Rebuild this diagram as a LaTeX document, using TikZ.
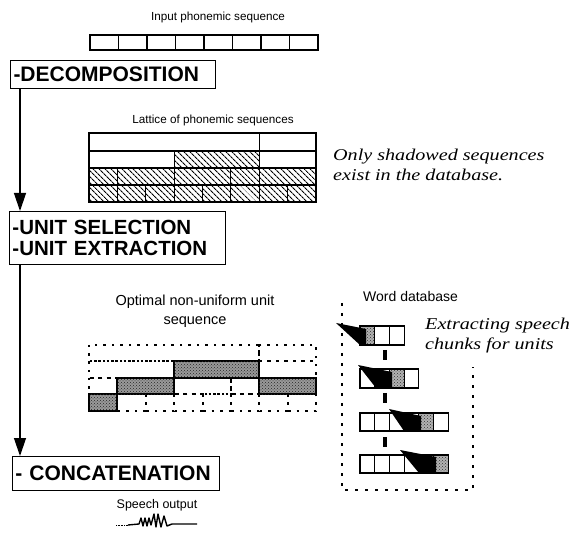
\documentclass[tikz,border=0pt]{standalone}
\usepackage{fontspec}
\setmainfont{Liberation Serif}
\newfontfamily\hv{Liberation Sans}
\newfontfamily\itf[FakeStretch=1.22]{Liberation Serif Italic}
\usetikzlibrary{patterns,patterns.meta,arrows.meta}
\begin{document}
\begin{tikzpicture}[x=1pt,y=-1pt,
  lab/.style={font=\hv\fontsize{12}{15}\selectfont, inner sep=0pt},
  note/.style={font=\itf\fontsize{16.5}{20}\selectfont, align=left, inner sep=0pt, anchor=north west},
  stage/.style={draw, line width=1pt, anchor=north west, inner xsep=3pt, inner ysep=0pt, align=left,
     font=\hv\bfseries\fontsize{21}{21}\selectfont},
  flow/.style={line width=1.3pt, -{Triangle[length=18pt,width=12pt]}},
  cell/.style={draw, line width=1.1pt},
  hatch/.style={cell, pattern={Lines[angle=-45,distance=4pt,line width=1.1pt]}},
  dots/.style={dash pattern=on 2.5pt off 6pt, line width=2pt},
  sel/.style={draw, line width=2pt, fill=black!40, postaction={pattern=crosshatch dots, pattern color=black!85}},
  wshade/.style={fill=black!30, postaction={pattern=crosshatch dots, pattern color=black!80}},
  dbframe/.style={dash pattern=on 3pt off 7pt, line width=2.5pt},
  link/.style={line width=4pt}
]
\useasboundingbox (0,0) rectangle (571,540);

% ---------- labels ----------
\node[lab, font=\hv\fontsize{11.7}{15}\selectfont] (tin) at (218,17) {Input phonemic sequence};
\node[lab, font=\hv\fontsize{11.7}{15}\selectfont] (tlat) at (213,120) {Lattice of phonemic sequences};
\node[lab, align=center, font=\hv\fontsize{14.5}{19}\selectfont] (topt) at (195,311) {Optimal non-uniform unit\\sequence};
\node[lab, anchor=west, font=\hv\fontsize{14}{15}\selectfont] (tdb) at (363,296) {Word database};
\node[lab, font=\hv\fontsize{12.5}{15}\selectfont] (tout) at (157,505) {Speech output};
\node[note] (n1) at (333,149) {Only shadowed sequences\\exist in the database.};
\node[note] (n2) at (425,318) {Extracting speech\\chunks for units};

% ---------- stage boxes ----------
\node[stage, minimum width=205pt, minimum height=28pt, text width=199pt] (dec) at (10,60) {-DECOMPOSITION};
\node[stage, minimum width=216pt, minimum height=53pt, text width=210pt, font=\hv\bfseries\fontsize{20.5}{21}\selectfont] (sel) at (9,211) {-UNIT SELECTION\\-UNIT EXTRACTION};
\node[stage, minimum width=207pt, minimum height=34pt, text width=201pt] (cat) at (12,456) {- CONCATENATION};

\draw[flow] ([xshift=10pt]dec.south west) -- ([xshift=11pt]sel.north west);
\draw[flow] ([xshift=11pt]sel.south west) -- ([xshift=8pt]cat.north west);

% ---------- input sequence ----------
\foreach \i in {0,...,7}
  \draw[cell] ({90+28.5*\i},35) rectangle ({90+28.5*(\i+1)},50);

% ---------- lattice ----------
\def\cx#1{{89+28.375*(#1)}}
% row 1
\draw[cell] (\cx{0},133) rectangle (\cx{6},151);
\draw[cell] (\cx{6},133) rectangle (\cx{8},151);
% row 2
\draw[cell] (\cx{0},151) rectangle (\cx{3},168);
\draw[hatch] (\cx{3},151) rectangle (\cx{6},168);
\draw[cell] (\cx{6},151) rectangle (\cx{8},168);
% row 3
\foreach \a/\b in {0/1,1/3,3/5,5/6,6/8}
  \draw[hatch] (\cx{\a},168) rectangle (\cx{\b},185);
% row 4
\foreach \a in {0,...,7}
  \draw[hatch] (\cx{\a},185) rectangle (\cx{\a+1},202);

% ---------- optimal unit sequence ----------
\foreach \a/\b in {0/6,6/8}
  \draw[dots] (\cx{\a},345) rectangle (\cx{\b},361.5);
\foreach \a/\b in {0/3,3/6,6/8}
  \draw[dots] (\cx{\a},361.5) rectangle (\cx{\b},378);
\foreach \a/\b in {0/1,1/3,3/5,5/6,6/8}
  \draw[dots] (\cx{\a},378) rectangle (\cx{\b},394.5);
\foreach \a in {0,...,7}
  \draw[dots] (\cx{\a},394.5) rectangle (\cx{\a+1},411);
\draw[sel] (\cx{0},394.5) rectangle (\cx{1},411);
\draw[sel] (\cx{1},378) rectangle (\cx{3},394.5);
\draw[sel] (\cx{3},361.5) rectangle (\cx{6},378);
\draw[sel] (\cx{6},378) rectangle (\cx{8},394.5);

% ---------- word database ----------
\draw[dbframe] (342,303) -- (342,490) -- (473,490) -- (473,367);
\def\wx#1{{360+14.7*(#1)}}
% row 1
\fill[wshade] (\wx{0},326) rectangle (\wx{1},345);
\fill (336,323) -- (366,329) -- (366,345) -- (\wx{0},345) -- cycle;
\foreach \i in {0,1,2} \draw[cell] (\wx{\i},326) rectangle (\wx{\i+1},345);
% row 2
\fill[wshade] (\wx{2},369) rectangle (\wx{3},388);
\fill (358,365) -- (392,372) -- (392,388) -- (376,388) -- cycle;
\foreach \i in {0,...,3} \draw[cell] (\wx{\i},369) rectangle (\wx{\i+1},388);
% row 3
\fill[wshade] (\wx{4},413) rectangle (\wx{5},431);
\fill (389,409) -- (421,416) -- (421,431) -- (404,431) -- cycle;
\foreach \i in {0,...,5} \draw[cell] (\wx{\i},413) rectangle (\wx{\i+1},431);
% row 4
\fill[wshade] (\wx{5},455) rectangle (\wx{6},473);
\fill (400,450) -- (436,457) -- (436,473) -- (419,473) -- cycle;
\foreach \i in {0,...,5} \draw[cell] (\wx{\i},455) rectangle (\wx{\i+1},473);
% links
\draw[link] (385,350) -- (385,360);
\draw[link] (385,393) -- (385,403);
\draw[link] (385,437) -- (385,447);

% ---------- speech waveform ----------
\draw[line width=0.6pt, dash pattern=on 1pt off 0.6pt] (116,525) -- (128,525);
\draw[line width=1.4pt, line join=round]
  (128,525) -- (139,524) -- (141,518) -- (143,526) -- (145,518) -- (147,526) -- (149,518)
  -- (151,525) -- (154,514) -- (156,527) -- (158,514) -- (161,527) -- (164,516) -- (167,526)
  -- (172,524) -- (197,524);
\end{tikzpicture}
\end{document}
